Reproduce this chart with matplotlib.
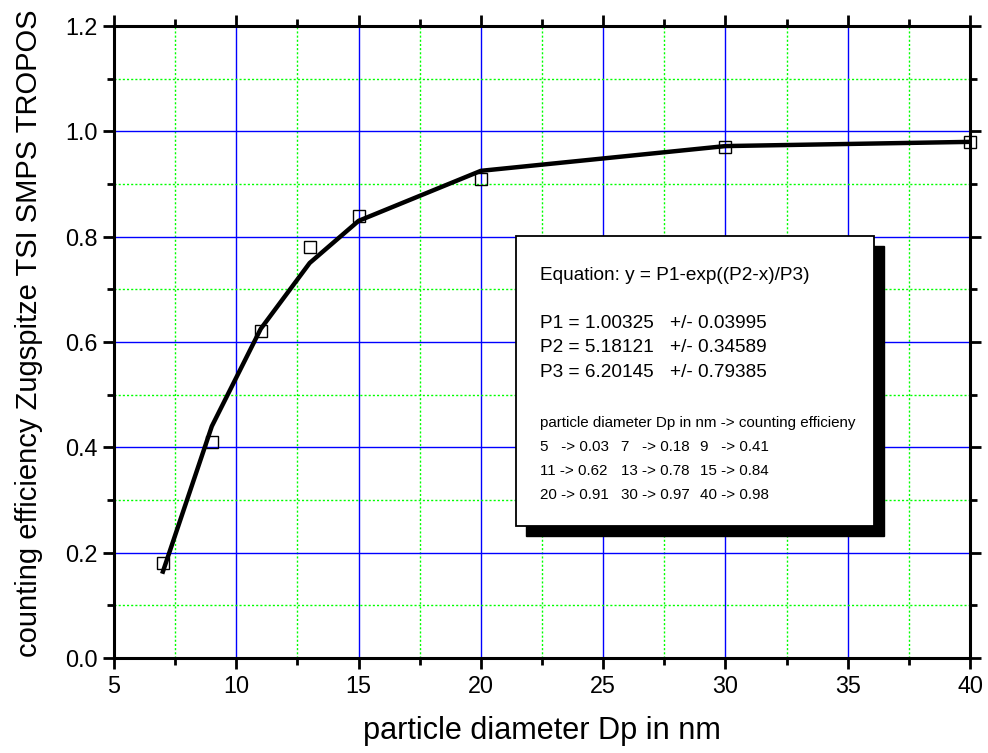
import matplotlib
matplotlib.use("Agg")
import matplotlib.pyplot as plt
from matplotlib.patches import Rectangle
from matplotlib.ticker import MultipleLocator
from matplotlib import font_manager

names = {f.name for f in font_manager.fontManager.ttflist}
NARROW = 'Liberation Sans Narrow' in names
plt.rcParams['font.family'] = (['Liberation Sans Narrow'] if NARROW else []) + ['Liberation Sans', 'DejaVu Sans']
k = 1.0 if NARROW else 0.84

# measured points (squares)
diam = [7, 9, 11, 13, 15, 20, 30, 40]
eff = [0.18, 0.41, 0.62, 0.78, 0.84, 0.91, 0.97, 0.98]
# fitted curve values
fit_y = [0.164, 0.44, 0.625, 0.75, 0.83, 0.925, 0.972, 0.98]

# table values shown in the text box
tab_d = [5, 7, 9, 11, 13, 15, 20, 30, 40]
tab_e = ["0.03", "0.18", "0.41", "0.62", "0.78", "0.84", "0.91", "0.97", "0.98"]

W, H = 988, 753
fig = plt.figure(figsize=(W / 100, H / 100), dpi=100)
ax = fig.add_axes([114 / W, 1 - 658 / H, (970 - 114) / W, (658 - 26) / H])

ax.set_xlim(5, 40)
ax.set_ylim(0, 1.2)
ax.xaxis.set_major_locator(MultipleLocator(5))
ax.xaxis.set_minor_locator(MultipleLocator(2.5))
ax.yaxis.set_major_locator(MultipleLocator(0.2))
ax.yaxis.set_minor_locator(MultipleLocator(0.1))
ax.yaxis.set_major_formatter(matplotlib.ticker.FormatStrFormatter('%.1f'))

ax.grid(which='major', color='#0000ff', linewidth=1.0, linestyle='-')
ax.grid(which='minor', color='#00ff00', linewidth=1.0, linestyle=(0, (1.5, 1.5)))
ax.set_axisbelow(True)

for s in ax.spines.values():
    s.set_linewidth(2.2)
ax.tick_params(which='both', direction='out', top=True, right=True,
               labeltop=False, labelright=False, width=2.0)
ax.tick_params(which='major', length=8, labelsize=20 * k, pad=4)
ax.tick_params(which='minor', length=5)

ax.plot(diam, fit_y, color='black', linewidth=3.2, zorder=3)
ax.plot(diam, eff, linestyle='none', marker='s', markersize=8.5,
        markerfacecolor='none', markeredgecolor='black', markeredgewidth=1.0,
        zorder=4, clip_on=False)

ax.set_xlabel('particle diameter Dp in nm', fontsize=26.3 * k, labelpad=13)
ax.set_ylabel('counting efficiency Zugspitze TSI SMPS TROPOS', fontsize=25.0 * k)
ax.yaxis.set_label_coords(-(114 - 43) / 856, (658 - 333) / 632)

# text box with shadow (pixel coordinates -> figure fraction)
def fx(px):
    return px / W

def fy(py):
    return 1 - py / H

bx0, by0, bx1, by1 = 516, 236, 874, 526
shadow = Rectangle((fx(bx0 + 10), fy(by1 + 10)), fx(bx1 - bx0), (by1 - by0) / H,
                   transform=fig.transFigure, facecolor='black', edgecolor='black',
                   zorder=5)
box = Rectangle((fx(bx0), fy(by1)), fx(bx1 - bx0), (by1 - by0) / H,
                transform=fig.transFigure, facecolor='white', edgecolor='black',
                linewidth=1.3, zorder=6)
fig.patches.extend([shadow, box])

big = 16.3 * k
small = 13.0 * k
fig.text(fx(540), fy(280), 'Equation: y = P1-exp((P2-x)/P3)', fontsize=big,
         va='baseline', ha='left', zorder=7)
params = [("P1 = 1.00325", "+/- 0.03995"),
          ("P2 = 5.18121", "+/- 0.34589"),
          ("P3 = 6.20145", "+/- 0.79385")]
for i, (a, b) in enumerate(params):
    yb = 328 + i * 24.5
    fig.text(fx(540), fy(yb), a, fontsize=big, va='baseline', ha='left', zorder=7)
    fig.text(fx(670), fy(yb), b, fontsize=big, va='baseline', ha='left', zorder=7)

fig.text(fx(540), fy(427), 'particle diameter Dp in nm -> counting efficieny',
         fontsize=small, va='baseline', ha='left', zorder=7)
cols = [540, 621, 700]
for j, (d, e) in enumerate(zip(tab_d, tab_e)):
    r, c = divmod(j, 3)
    sep = "   " if d < 10 else " "
    fig.text(fx(cols[c]), fy(451 + r * 24), f"{d}{sep}-> {e}", fontsize=small,
             va='baseline', ha='left', zorder=7)

fig.savefig('out.png', dpi=100)
